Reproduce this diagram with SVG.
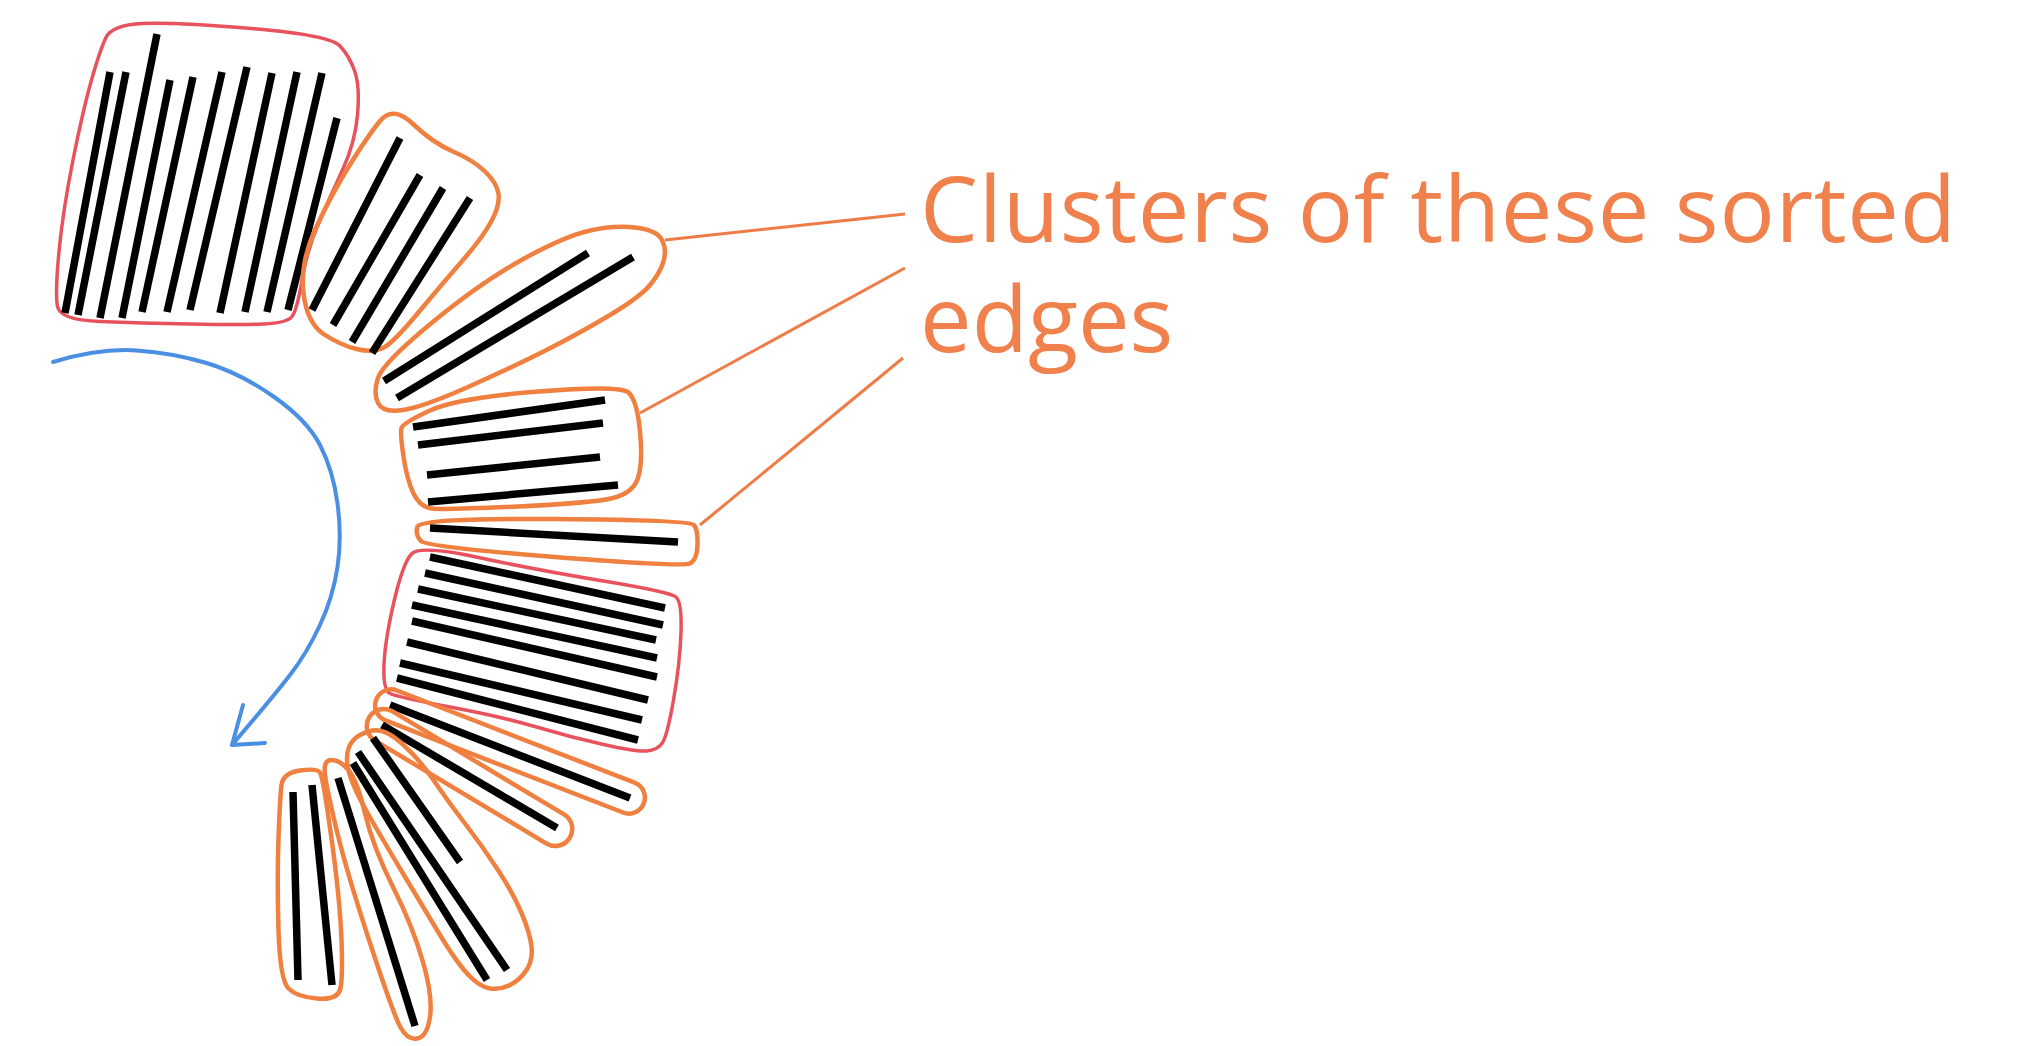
<svg xmlns="http://www.w3.org/2000/svg" width="2025" height="1046" viewBox="0 0 2025 1046">
<style>
.edge{stroke:#000;stroke-width:7.5;stroke-linecap:butt;fill:none}
.red{fill:none;stroke:#E8525C;stroke-width:3.5;stroke-linejoin:round}
.org{fill:none;stroke:#F08040;stroke-width:4.5;stroke-linejoin:round}
.conn{stroke:#EE7C46;stroke-width:3;fill:none}
.lbl{font-family:"Open Sans","Noto Sans",sans-serif;font-size:92px;fill:#F0804C}
.blue{fill:none;stroke:#4A8FE2;stroke-width:4;stroke-linecap:round;stroke-linejoin:round}
</style>
<rect width="2025" height="1046" fill="#fff"/>

<g id="cluster1">
<path class="red" d="M106,37.5 Q112,25 142.5,23.5 Q173,22 251.5,28.5 Q330,35 340,46 Q350,57 355,72 Q360,87 357.5,115 Q355,143 342.5,170 Q330,197 318.5,223.5 Q307,250 302,280 Q297,310 292,316.5 Q287,323 263.5,324 Q240,325 190,324 Q140,323 100,321.5 Q60,320 57.5,306.5 Q55,293 59,251.5 Q63,210 73,160 Q83,110 91.5,80 Q100,50 106,37.5 Z"/>
<path class="edge" d="M110,72 L65,313 M126,72 L78,315 M157,34 L100,318 M170,80 L122,318 M193,77 L142,312 M222,72 L167,312 M247,67 L190,310 M272,73 L220,313 M297,72 L245,312 M322,73 L267,312 M337,118 L288,310"/>
</g>

<g id="cluster2">
<path class="org" d="M380,121 Q393,105 413,124 Q433,143 453,151.5 Q473,160 485,171.5 Q497,183 498.5,194 Q500,205 491.5,221 Q483,237 463,260 Q443,283 418,313 Q393,343 383,348 Q373,353 356.5,349 Q340,345 323.5,334 Q307,323 303.5,293 Q300,263 315,230 Q330,197 348.5,167 Q367,137 380,121 Z"/>
<path class="edge" d="M400,138 L312,310 M420,175 L333,325 M443,188 L352,342 M470,198 L372,353"/>
</g>

<g id="cluster3">
<path class="org" d="M588,231 Q613,225 635,227.5 Q657,230 662,240 Q667,250 663.5,261.5 Q660,273 650,285 Q640,297 610,315 Q580,333 546.5,350 Q513,367 468,387 Q423,407 403,410 Q383,413 378,403 Q373,393 378,378 Q383,363 431.5,323 Q480,283 521.5,260 Q563,237 588,231 Z"/>
<path class="edge" d="M588,253 L384,381 M633,257 L397,398"/>
</g>

<g id="cluster4">
<path class="org" d="M401.5,428 Q403,423 430,410.5 Q457,398 538.5,391.5 Q620,385 628.5,392.5 Q637,400 640,431.5 Q643,463 638,478 Q633,493 613,498 Q593,503 518,506.5 Q443,510 431.5,508.5 Q420,507 413.5,493.5 Q407,480 403.5,456.5 Q400,433 401.5,428 Z"/>
<path class="edge" d="M413,427 L605,400 M418,445 L603,423 M427,475 L600,457 M428,502 L618,485"/>
</g>

<g id="cluster5">
<path class="org" d="M417.5,526.5 Q420,518 555,519 Q690,520 694,525 Q698,530 697.5,545 Q697,560 690,563.5 Q683,567 555,557 Q427,547 421,541 Q415,535 417.5,526.5 Z"/>
<path class="edge" d="M430,528 L678,542"/>
</g>

<g id="cluster6">
<path class="red" d="M411.5,554 Q420,545 478.5,557.5 Q537,570 603.5,581 Q670,592 676,597 Q682,602 681,632.5 Q680,663 673.5,700 Q667,737 662,743.5 Q657,750 647,751 Q637,752 603.5,744.5 Q570,737 536.5,727 Q503,717 450,707 Q397,697 390,693.5 Q383,690 384,665 Q385,640 394,601.5 Q403,563 411.5,554 Z"/>
<path class="edge" d="M430,557 L665,608 M425,573 L663,625 M418,589 L656,640 M412,605 L657,658 M412,621 L657,677 M407,642 L648,700 M400,663 L642,720 M397,678 L638,740"/>
</g>

<g id="cluster7">
<rect class="org" x="-143.5" y="-16" width="287" height="32" rx="16" transform="translate(510,751.5) rotate(21.2)"/>
<path class="edge" d="M390,705 L630,798"/>
</g>

<g id="cluster8">
<rect class="org" x="-117" y="-17" width="234" height="34" rx="17" transform="translate(469.5,777.5) rotate(31)"/>
<path class="edge" d="M382,725 L557,828"/>
</g>

<g id="cluster9">
<path class="org" d="M353.5,740 Q360,733 372.5,730.5 Q385,728 402.5,744 Q420,760 433.5,780 Q447,800 465,823.5 Q483,847 498,870 Q513,893 521.5,913 Q530,933 531.5,946.5 Q533,960 526.5,970 Q520,980 510,985 Q500,990 490,988.5 Q480,987 468.5,975 Q457,963 440,935 Q423,907 403,873.5 Q383,840 371.5,820 Q360,800 353.5,785 Q347,770 347,758.5 Q347,747 353.5,740 Z"/>
<path class="edge" d="M373,738 L460,862 M358,752 L507,970 M353,763 L487,980"/>
</g>

<g id="cluster10">
<path class="org" d="M331.5,760 Q340,760 348.5,770 Q357,780 365,813.5 Q373,847 393,887 Q413,927 423,962 Q433,997 430,1017 Q427,1037 417,1038.5 Q407,1040 400,1026.5 Q393,1013 370,943 Q347,873 337,831.5 Q327,790 325,775 Q323,760 331.5,760 Z"/>
<path class="edge" d="M338,778 L415,1026"/>
</g>

<g id="cluster11">
<path class="org" d="M300,770.5 Q317,768 320,772.5 Q323,777 331.5,838.5 Q340,900 341.5,940 Q343,980 340,990 Q337,1000 317,998.5 Q297,997 288.5,988.5 Q280,980 278.5,930 Q277,880 278.5,838.5 Q280,797 281.5,785 Q283,773 300,770.5 Z"/>
<path class="edge" d="M312,785 L332,985 M293,792 L298,980"/>
</g>

<g id="connectors">
<path class="conn" d="M665,240 L905,214"/>
<path class="conn" d="M640,413 L905,268"/>
<path class="conn" d="M700,525 L903,358"/>
</g>

<g id="rotation-arrow">
<path class="blue" d="M53,362 Q100,348 136.5,350.5 Q173,353 206.5,363 Q240,373 273.5,396.5 Q307,420 320,445 Q333,470 337.5,503.5 Q342,537 337.5,567 Q333,597 320,625 Q307,653 290,675 Q273,697 232,745"/>
<path class="blue" d="M243,705 L232,745 L265,743"/>
</g>

<g id="label">
<text class="lbl"><tspan x="920" y="242" textLength="1036" lengthAdjust="spacing">Clusters of these sorted</tspan><tspan x="920" y="352">edges</tspan></text>
</g>
</svg>
